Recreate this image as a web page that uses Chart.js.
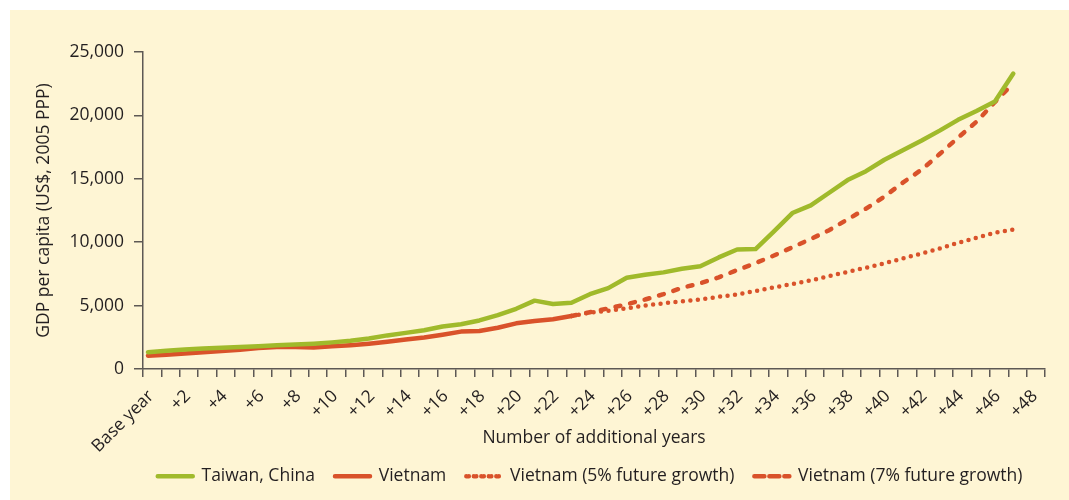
<!DOCTYPE html>
<html>
<head>
<meta charset="utf-8">
<script src="https://cdn.jsdelivr.net/npm/chart.js@4/dist/chart.umd.min.js"></script>
<style>
  body { margin: 0; background: #ffffff; }
  #panel { position: absolute; left: 10px; top: 10px; width: 1059px; height: 490px; background: #fef5d4; }
</style>
</head>
<body>
<div id="panel"><canvas id="chart" width="1059" height="490"></canvas></div>
<script>
// years after the base year, one point each
var years = [0,1,2,3,4,5,6,7,8,9,10,11,12,13,14,15,16,17,18,19,20,21,22,23,
             24,25,26,27,28,29,30,31,32,33,34,35,36,37,38,39,40,41,42,43,44,45,46,47];

var tickLabels = ['Base year','','+2','','+4','','+6','','+8','','+10','','+12','','+14','','+16','','+18','',
                  '+20','','+22','','+24','','+26','','+28','','+30','','+32','','+34','','+36','','+38','',
                  '+40','','+42','','+44','','+46','','+48',''];

var taiwan = [1330,1440,1540,1620,1680,1740,1800,1870,1930,2000,2100,2230,2400,2650,2850,3050,3350,3530,3830,4250,
              4750,5390,5130,5230,5900,6380,7200,7430,7620,7900,8100,8800,9420,9460,10850,12300,12900,13900,14900,15600,
              16500,17250,18000,18800,19650,20350,21100,23300];

var vietnam = [1050,1130,1220,1320,1410,1520,1650,1740,1730,1700,1790,1880,2000,2150,2330,2480,2700,2950,3000,3250,
               3600,3780,3930,4180];

var vietnam5 = [null,null,null,null,null,null,null,null,null,null,null,null,null,null,null,null,null,null,null,null,
                null,null,null,4180,4450,4600,4790,5000,5180,5330,5480,5700,5880,6150,6430,6700,6990,7330,7660,7990,
                8340,8720,9100,9500,9950,10350,10750,11000];

var vietnam7 = [null,null,null,null,null,null,null,null,null,null,null,null,null,null,null,null,null,null,null,null,
                null,null,null,4180,4480,4780,5100,5480,5900,6400,6760,7230,7800,8350,8950,9600,10250,10950,11800,12650,
                13600,14700,15700,16950,18250,19500,21050,22530];

var green = '#a0ba2b';
var red = '#d9522a';
var ink = '#231f20';
var axisCol = '#5d5854';
var font = { family: 'Open Sans', size: 17.5 };
var tickShift = 0.27;
var labelRoom = 10;   // extra room under the x scale so "Base year" is not clipped

// slide the full width legend so it is centred under the plot area,
// and let the x labels run a little into the legend band
var legendUnderPlot = {
  id: 'legendUnderPlot',
  afterLayout: function (chart) {
    var lg = chart.legend;
    if (lg) {
      var shift = (chart.chartArea.left + chart.chartArea.right) / 2 - 4 - (lg.left + lg.right) / 2;
      lg.left += shift;
      lg.right += shift;
    }
    chart.scales.x.bottom += labelRoom;
  }
};

var chart = new Chart(document.getElementById('chart'), {
  type: 'line',
  data: {
    labels: years,
    datasets: [
      { label: 'Taiwan, China', data: taiwan, borderColor: green, backgroundColor: green, borderWidth: 4.5 },
      { label: 'Vietnam', data: vietnam, borderColor: red, backgroundColor: red, borderWidth: 4.5 },
      { label: 'Vietnam (5% future growth)', data: vietnam5, borderColor: red, backgroundColor: 'rgba(0,0,0,0)',
        borderWidth: 4.5, borderDash: [0, 7.5] },
      { label: 'Vietnam (7% future growth)', data: vietnam7, borderColor: red, backgroundColor: 'rgba(0,0,0,0)',
        borderWidth: 4.5, borderDash: [5, 10] },
    ]
  },
  options: {
    responsive: false,
    animation: false,
    devicePixelRatio: 1,
    layout: { padding: { left: 0, right: 14, top: 42, bottom: 5 } },
    elements: {
      point: { radius: 0 },
      line: { tension: 0, borderCapStyle: 'round', borderJoinStyle: 'round', fill: false }
    },
    plugins: {
      tooltip: { enabled: false },
      legend: {
        position: 'bottom',
        fullSize: true,
        labels: { color: ink, font: font, boxWidth: 35, boxHeight: 0, padding: 20 }
      }
    },
    scales: {
      x: {
        type: 'linear',
        min: -tickShift,
        max: 49 - tickShift,
        afterBuildTicks: function (scale) {
          scale.ticks = tickLabels.map(function (t, i) { return { value: i - tickShift }; });
        },
        afterFit: function (scale) { scale.height = 78.5; },
        ticks: {
          autoSkip: false, maxRotation: 45, minRotation: 45, padding: 9, labelOffset: 8, color: ink, font: font,
          callback: function (value, index) { return tickLabels[index]; }
        },
        grid: { drawOnChartArea: false, drawTicks: true, tickLength: 8, color: axisCol, lineWidth: 1.5 },
        border: { color: axisCol, width: 1.5 },
        title: { display: true, text: 'Number of additional years', color: ink, font: font, padding: { top: 0, bottom: 9 } }
      },
      y: {
        min: 0,
        max: 25000,
        afterFit: function (scale) { scale.width = 133; },
        ticks: {
          stepSize: 5000, padding: 10, color: ink, font: font,
          callback: function (value) { return value.toLocaleString('en-US'); }
        },
        grid: { drawOnChartArea: false, drawTicks: true, tickLength: 9, color: axisCol, lineWidth: 1.5 },
        border: { color: axisCol, width: 1.5 },
        title: { display: true, text: 'GDP per capita (US$, 2005 PPP)', color: ink, font: font, padding: { top: 24, bottom: 0 } }
      }
    }
  },
  plugins: [legendUnderPlot]
});
</script>
</body>
</html>
